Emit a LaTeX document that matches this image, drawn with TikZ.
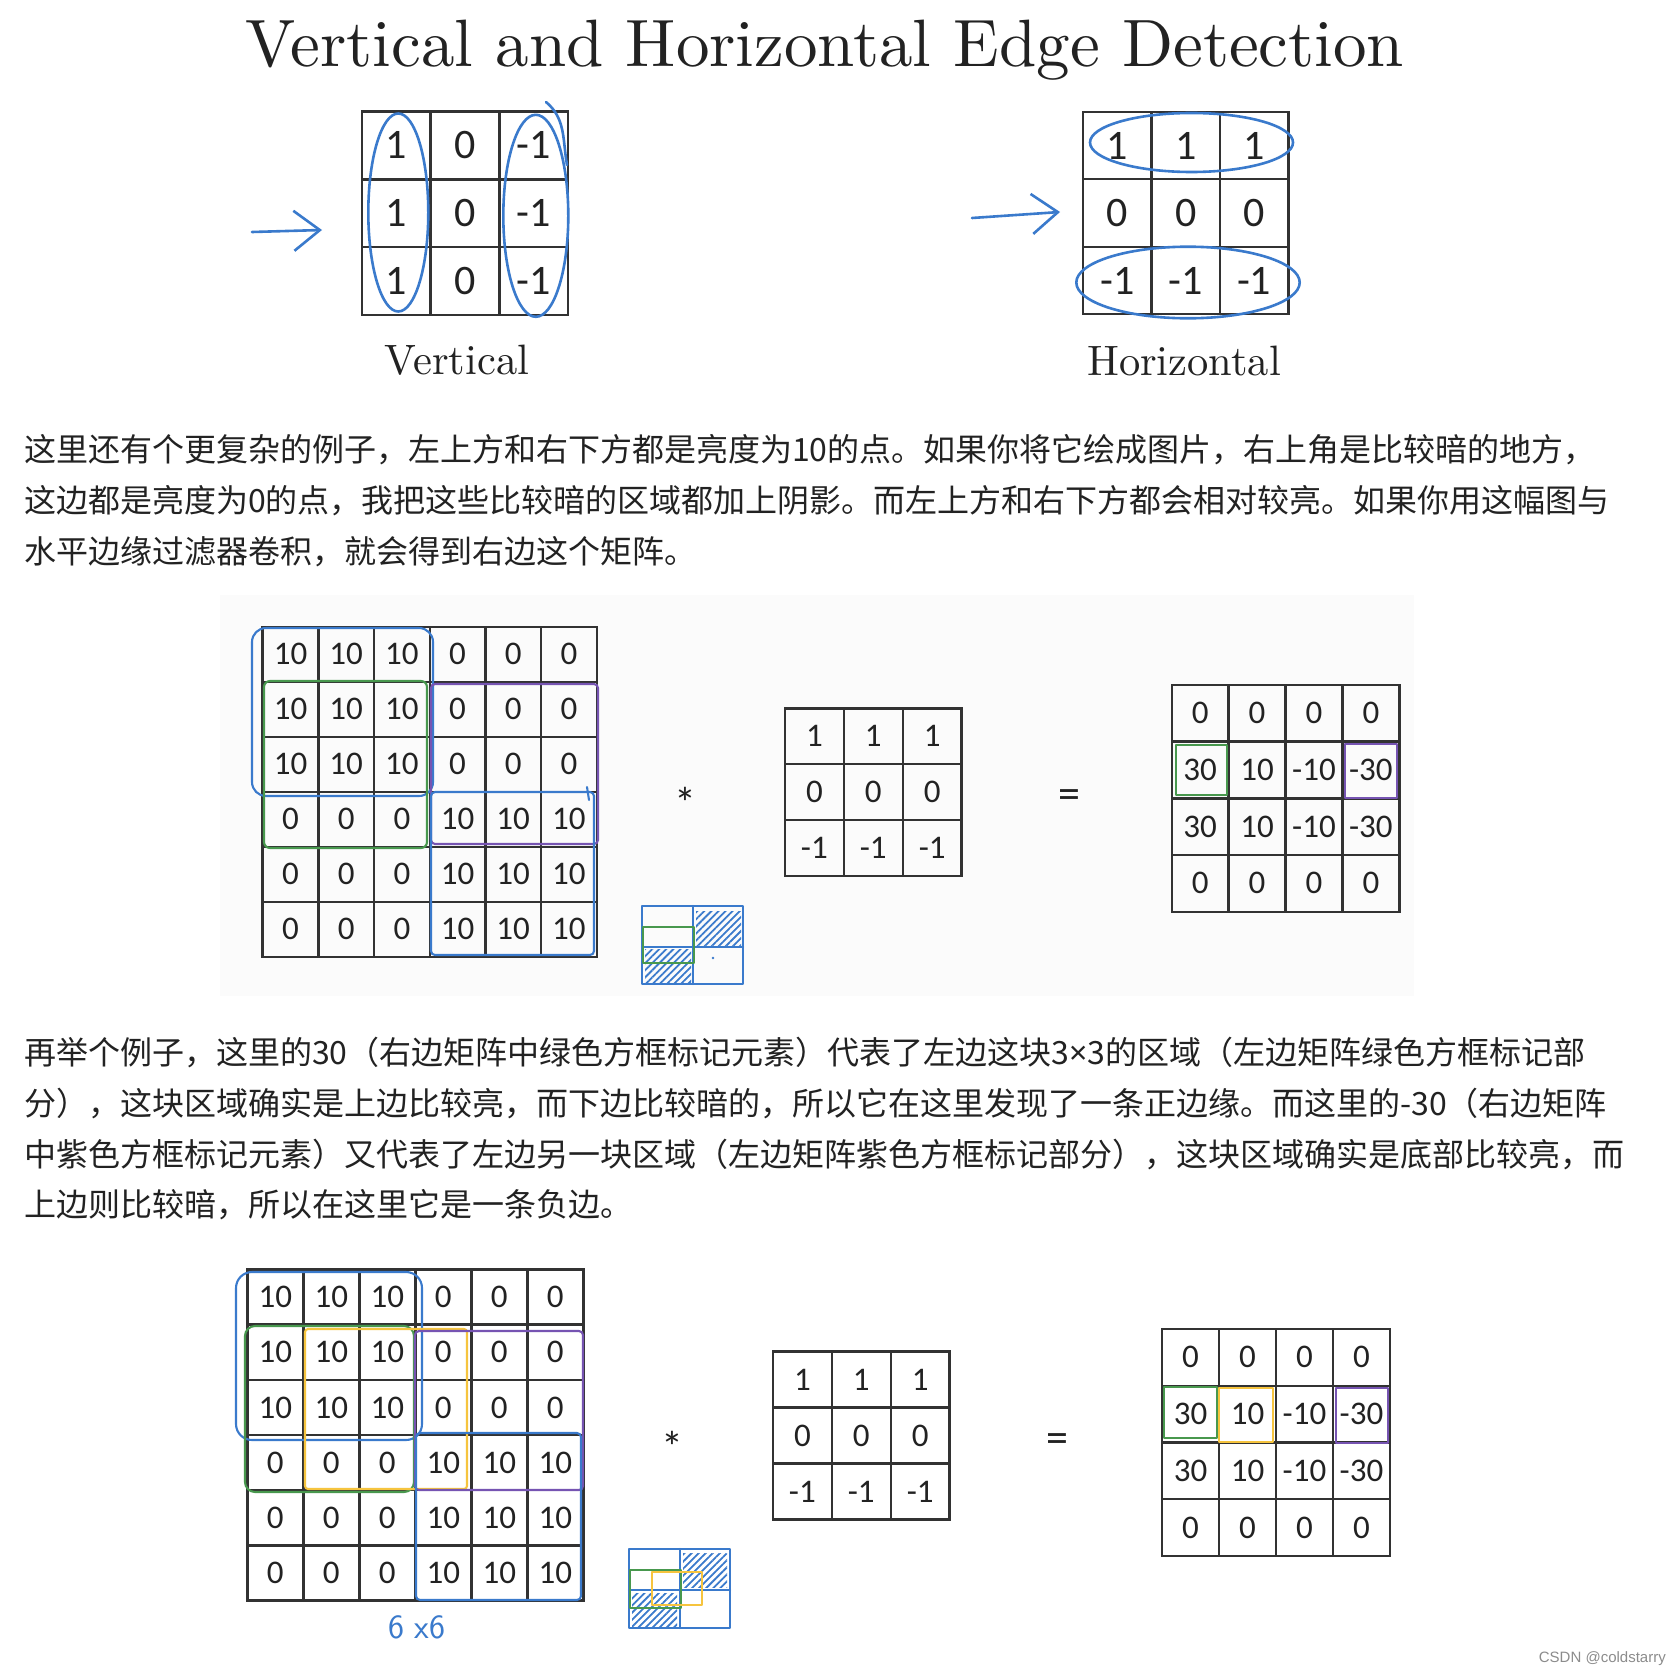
\documentclass[tikz,border=0pt]{standalone}
\usepackage{fontspec}
\usetikzlibrary{arrows.meta,matrix,patterns.meta}

\newfontfamily\cjk{Noto Sans CJK SC}
\newfontfamily\latin{Noto Sans}
\newfontfamily\calib{Carlito}
\newfontfamily\wmark{Liberation Sans}
\newfontfamily\cmten{lmroman10-regular.otf}

\definecolor{inkblue}{RGB}{58,122,204}
\definecolor{inkgreen}{RGB}{72,152,78}
\definecolor{inkpurple}{RGB}{118,84,178}
\definecolor{inkyellow}{RGB}{246,196,62}
\definecolor{gridcol}{RGB}{50,50,50}
\definecolor{textcol}{RGB}{34,34,34}

\newcommand\bigdig{\calib\fontsize{42}{42}\selectfont}
\newcommand\middig{\calib\fontsize{33}{33}\selectfont}

\begin{document}
\begin{tikzpicture}[
  x=1pt, y=-1pt,
  % ---- Grids ----
  cellgrid/.style n args={3}{matrix of nodes, inner sep=0pt,
      column sep=-2.4pt, row sep=-2.4pt,
      nodes={draw=gridcol, line width=2.4pt, inner sep=0pt, text=textcol,
             minimum width=#1, minimum height=#2, font=#3}},
  % ---- Hand marks ----
  ink/.style={line width=2.6pt, line cap=round, line join=round},
  pen/.style={line width=2.1pt, line cap=round, line join=round},
  handarrow/.style={ink, draw=inkblue, -{Straight Barb[length=26pt,width=40pt]}},
  hatch/.style={pattern={Lines[angle=45,distance=5pt,line width=1.8pt]}, pattern color=inkblue},
  % ---- Text ----
  para/.style={anchor=base west, inner sep=0pt, text=textcol,
               font=\cjk\fontsize{32}{40}\selectfont},
  serif/.style={anchor=base, inner sep=0pt, text=textcol},
  sym/.style={inner sep=0pt, text=textcol, font=\calib\fontsize{44}{44}\selectfont}
]

\useasboundingbox[fill=white] (0,0) rectangle (1680,1672);

% ===== Title =====
\node[serif, font=\cmten\fontsize{67}{67}\selectfont] (title) at (825,67)
  {Vertical and Horizontal Edge Detection};

% ===== Top filters =====
\matrix (vfilt) [cellgrid={68.8pt}{67.8pt}{\bigdig}] at (465,213.3) {
  1 & 0 & -1 \\
  1 & 0 & -1 \\
  1 & 0 & -1 \\
};
\matrix (hfilt) [cellgrid={68.4pt}{67.5pt}{\bigdig}] at (1185.8,213) {
  1 & 1 & 1 \\
  0 & 0 & 0 \\
  -1 & -1 & -1 \\
};
\node[serif, font=\cmten\fontsize{42.5}{42.5}\selectfont] (vlab) at (457,374) {Vertical};
\node[serif, font=\cmten\fontsize{42.5}{42.5}\selectfont] (hlab) at (1184,375) {Horizontal};

% hand arrows and loops
\coordinate (vtail) at (252,232);
\coordinate (vtip)  at (322,230);
\coordinate (htail) at (972,218);
\coordinate (htip)  at (1060,212);
\draw[handarrow] (vtail) -- (vtip);
\draw[handarrow] (htail) -- (htip);

\draw[ink, inkblue] (398.3,212.5) ellipse [x radius=30pt, y radius=99pt];
\draw[ink, inkblue] (535.8,215.8) ellipse [x radius=32.5pt, y radius=101pt];
\draw[ink, inkblue] (546,102) to[out=-40,in=100] (567,165);
\draw[ink, inkblue] (1191.5,142.5) ellipse [x radius=101.5pt, y radius=29.5pt];
\draw[ink, inkblue] (1188,282.5) ellipse [x radius=111.7pt, y radius=35.8pt];

% ===== Paragraph 1 =====
\node[para] (p1a) at (24,461) {这里还有个更复杂的例子，左上方和右下方都是亮度为10的点。如果你将它绘成图片，右上角是比较暗的地方，};
\node[para] (p1b) at (24,512) {这边都是亮度为0的点，我把这些比较暗的区域都加上阴影。而左上方和右下方都会相对较亮。如果你用这幅图与};
\node[para] (p1c) at (24,563) {水平边缘过滤器卷积，就会得到右边这个矩阵。};

% ===== Example 1 =====
\fill[black!1.5] (220,595) rectangle (1414,996);

\matrix (img1) [cellgrid={55.67pt}{55pt}{\middig}] at (429.7,791.7) {
  10 & 10 & 10 & 0 & 0 & 0 \\
  10 & 10 & 10 & 0 & 0 & 0 \\
  10 & 10 & 10 & 0 & 0 & 0 \\
  0 & 0 & 0 & 10 & 10 & 10 \\
  0 & 0 & 0 & 10 & 10 & 10 \\
  0 & 0 & 0 & 10 & 10 & 10 \\
};
\node[sym] (star1) at (685,803) {*};
\matrix (filt1) [cellgrid={58.9pt}{55.9pt}{\middig}] at (873.3,792.2) {
  1 & 1 & 1 \\
  0 & 0 & 0 \\
  -1 & -1 & -1 \\
};
\node[sym] (eq1) at (1069,799) {=};
\matrix (out1) [cellgrid={56.9pt}{56.7pt}{\middig}] at (1285.5,798.3) {
  0 & 0 & 0 & 0 \\
  30 & 10 & -10 & -30 \\
  30 & 10 & -10 & -30 \\
  0 & 0 & 0 & 0 \\
};

% marks on the image
\draw[pen, inkblue, rounded corners=14pt] (252,628) rectangle (433,796);
\draw[pen, inkgreen, rounded corners=6pt] (264,681) rectangle (427,848);
\draw[pen, inkpurple, rounded corners=4pt] (431,684) rectangle (598,844);
\draw[pen, inkblue, rounded corners=4pt] (431,792) rectangle (594,955);
\draw[pen, inkblue] (587,787) -- (589,800);
% marks on the result
\draw[pen, inkgreen] (1176,745) rectangle (1227,795);
\draw[pen, inkpurple] (1345,744) rectangle (1397,798);

% small sketch
\fill[hatch] (696,911) rectangle (741,945);
\fill[hatch] (645,949) rectangle (691,982);
\draw[pen, inkblue] (642,906) rectangle (743,984);
\draw[pen, inkblue] (693,906) -- (693,984);
\draw[pen, inkblue] (642,947) -- (743,947);
\draw[pen, inkgreen] (643,927) rectangle (694,963);
\fill[inkblue] (713,958) circle (1.3pt);

% ===== Paragraph 2 =====
\node[para] (p2a) at (24,1064) {再举个例子，这里的30（右边矩阵中绿色方框标记元素）代表了左边这块3{\latin ×}3的区域（左边矩阵绿色方框标记部};
\node[para] (p2b) at (24,1115) {分），这块区域确实是上边比较亮，而下边比较暗的，所以它在这里发现了一条正边缘。而这里的-30（右边矩阵};
\node[para] (p2c) at (24,1166) {中紫色方框标记元素）又代表了左边另一块区域（左边矩阵紫色方框标记部分），这块区域确实是底部比较亮，而};
\node[para] (p2d) at (24,1216) {上边则比较暗，所以在这里它是一条负边。};

% ===== Example 2 =====
\matrix (img2) [cellgrid={56pt}{55.2pt}{\middig}] at (415.3,1435) {
  10 & 10 & 10 & 0 & 0 & 0 \\
  10 & 10 & 10 & 0 & 0 & 0 \\
  10 & 10 & 10 & 0 & 0 & 0 \\
  0 & 0 & 0 & 10 & 10 & 10 \\
  0 & 0 & 0 & 10 & 10 & 10 \\
  0 & 0 & 0 & 10 & 10 & 10 \\
};
\node[sym] (star2) at (672,1447) {*};
\matrix (filt2) [cellgrid={58.9pt}{55.9pt}{\middig}] at (861.3,1435.5) {
  1 & 1 & 1 \\
  0 & 0 & 0 \\
  -1 & -1 & -1 \\
};
\node[sym] (eq2) at (1057,1443) {=};
\matrix (out2) [cellgrid={57pt}{56.75pt}{\middig}] at (1276,1442.5) {
  0 & 0 & 0 & 0 \\
  30 & 10 & -10 & -30 \\
  30 & 10 & -10 & -30 \\
  0 & 0 & 0 & 0 \\
};

% marks on the image
\draw[pen, inkblue, rounded corners=16pt] (236,1272) rectangle (422,1440);
\draw[pen, inkgreen, rounded corners=10pt] (245,1326) rectangle (414,1492);
\draw[pen, inkyellow, rounded corners=3pt] (305,1329) rectangle (467,1489);
\draw[pen, inkpurple, rounded corners=4pt] (415,1331) rectangle (583,1490);
\draw[pen, inkblue, rounded corners=4pt] (416,1433) rectangle (581,1600);
\node[font=\sffamily\fontsize{34}{34}\selectfont, text=inkblue, inner sep=0pt] (size2) at (417,1627) {6 x6};
% marks on the result
\draw[pen, inkgreen] (1164,1387) rectangle (1217,1438);
\draw[pen, inkyellow] (1219,1388) rectangle (1273,1442);
\draw[pen, inkpurple] (1336,1388) rectangle (1388,1443);

% small sketch
\fill[hatch] (683,1553) rectangle (727,1587);
\fill[hatch] (632,1593) rectangle (677,1626);
\draw[pen, inkblue] (629,1549) rectangle (730,1628);
\draw[pen, inkblue] (680,1549) -- (680,1628);
\draw[pen, inkblue] (629,1590) -- (730,1590);
\draw[pen, inkgreen] (630,1570) rectangle (681,1608);
\draw[pen, inkyellow] (652,1572) rectangle (702,1605);

% ===== Watermark =====
\node[anchor=base east, inner sep=0pt, text=black!45,
      font=\wmark\fontsize{15}{15}\selectfont] (wm) at (1666,1662) {CSDN @coldstarry};

\end{tikzpicture}
\end{document}
